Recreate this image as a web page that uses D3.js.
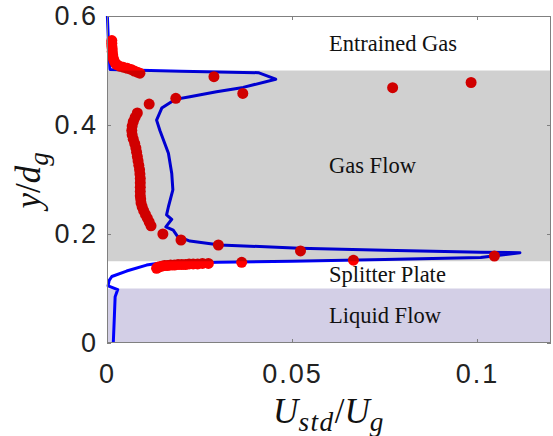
<!DOCTYPE html>
<html>
<head>
<meta charset="utf-8">
<script src="https://cdn.jsdelivr.net/npm/d3@7/dist/d3.min.js"></script>
<style>
    body { margin: 0; background: #fff; }
</style>
</head>
<body>
<div class="main"></div>
<script>
"use strict";

var xTicks = [0, 0.05, 0.1];
var xTickLabels = ["0", "0.05", "0.1"];
var yTicks = [0, 0.2, 0.4, 0.6];
var yTickLabels = ["0", "0.2", "0.4", "0.6"];

// simulation profile (blue line), ordered bottom to top
var simX = [0.0017, 0.0020, 0.0022, 0.0029, 0.0003, 0.0006, 0.0013, 0.0053, 0.0107, 0.0130,
    0.030, 0.050, 0.075, 0.101, 0.1116, 0.101, 0.075, 0.052, 0.0305, 0.0224,
    0.0190, 0.0179, 0.0159, 0.0175, 0.0161, 0.0166, 0.0178, 0.0175, 0.0166, 0.0143,
    0.0134, 0.0148, 0.0184, 0.0224, 0.0296, 0.0368, 0.0456, 0.0409, 0.020, 0.0008,
    0.0004, 0.0001];
var simY = [0, 0.05, 0.085, 0.098, 0.105, 0.115, 0.122, 0.132, 0.143, 0.1455,
    0.148, 0.150, 0.153, 0.157, 0.1657, 0.1665, 0.170, 0.174, 0.180, 0.187,
    0.196, 0.207, 0.213, 0.227, 0.235, 0.250, 0.281, 0.311, 0.348, 0.390,
    0.409, 0.431, 0.447, 0.452, 0.461, 0.469, 0.484, 0.496, 0.4985, 0.502,
    0.55, 0.6];

// experiment (red dots)
var expX = [0.0134, 0.0137, 0.0142, 0.0148, 0.0155, 0.0163, 0.0172, 0.0182, 0.0192, 0.0202,
    0.0212, 0.0222, 0.0233, 0.0245, 0.0258, 0.0274, 0.0364, 0.0666, 0.1047, 0.0523,
    0.0301, 0.0200, 0.0151, 0.0119, 0.0114, 0.0109, 0.0104, 0.0099, 0.0095, 0.0092,
    0.0091, 0.0090, 0.0090, 0.0090, 0.0090, 0.0090, 0.0089, 0.0088, 0.0086, 0.0084,
    0.0082, 0.0080, 0.0078, 0.0075, 0.0071, 0.0068, 0.0067, 0.0068, 0.0071, 0.0076,
    0.0082, 0.0114, 0.0186, 0.0367, 0.0772, 0.0984, 0.0289, 0.0089, 0.0082, 0.0074,
    0.0065, 0.0055, 0.0044, 0.0034, 0.0026, 0.0021, 0.0018, 0.0016, 0.0015, 0.0014,
    0.0014, 0.0013, 0.0013, 0.0013];
var expY = [0.137, 0.139, 0.140, 0.141, 0.142, 0.142, 0.143, 0.143, 0.144, 0.144,
    0.144, 0.145, 0.145, 0.145, 0.146, 0.146, 0.148, 0.152, 0.1596, 0.169,
    0.1798, 0.189, 0.200, 0.215, 0.222, 0.229, 0.236, 0.243, 0.250, 0.257,
    0.264, 0.270, 0.278, 0.286, 0.294, 0.302, 0.310, 0.318, 0.326, 0.334,
    0.342, 0.350, 0.358, 0.366, 0.374, 0.382, 0.390, 0.398, 0.406, 0.414,
    0.422, 0.4385, 0.449, 0.458, 0.4685, 0.478, 0.4886, 0.495, 0.497, 0.499,
    0.502, 0.504, 0.506, 0.508, 0.511, 0.515, 0.520, 0.525, 0.530, 0.535,
    0.540, 0.545, 0.550, 0.555];

// flow regions
var regionNames = ["Liquid Flow", "Splitter Plate", "Gas Flow", "Entrained Gas"];
var regionLow = [0, 0.1, 0.15, 0.5];
var regionHigh = [0.1, 0.15, 0.5, 0.6];

var width = 553, height = 436;
var margin = {top: 16, right: 2, bottom: 93, left: 107};
var w = width - margin.left - margin.right;
var h = height - margin.top - margin.bottom;

var x = d3.scaleLinear().domain([0, 0.12]).range([0, w]);
var y = d3.scaleLinear().domain([0, 0.6]).range([h, 0]);

var svg = d3.select('div.main')
    .append('svg')
    .attr('width', width)
    .attr('height', height);

var g = svg.append('g')
    .attr('transform', 'translate(' + margin.left + ',' + margin.top + ')');

// liquid flow band sits under the data
g.append('rect')
    .attr('x', 0)
    .attr('width', w)
    .attr('y', y(regionHigh[0]))
    .attr('height', y(regionLow[0]) - y(regionHigh[0]))
    .attr('fill', '#d3cfe6');

var simPts = simX.map(function (d, i) { return [d, simY[i]]; });
g.append('path')
    .datum(simPts)
    .attr('d', d3.line().x(function (d) { return x(d[0]); }).y(function (d) { return y(d[1]); }))
    .attr('fill', 'none')
    .attr('stroke', '#0000ff')
    .attr('stroke-width', 3)
    .attr('stroke-linejoin', 'round');

g.selectAll('circle.exp')
    .data(expX.map(function (d, i) { return [d, expY[i]]; }))
    .enter().append('circle')
    .attr('class', 'exp')
    .attr('cx', function (d) { return x(d[0]); })
    .attr('cy', function (d) { return y(d[1]); })
    .attr('r', 5.5)
    .attr('fill', '#ff0000');

// gas flow band is a translucent patch drawn over the data
g.append('rect')
    .attr('x', 0)
    .attr('width', w)
    .attr('y', y(regionHigh[2]))
    .attr('height', y(regionLow[2]) - y(regionHigh[2]))
    .attr('fill', '#000')
    .attr('fill-opacity', 0.184);

g.selectAll('text.region')
    .data(regionNames)
    .enter().append('text')
    .attr('class', 'region')
    .attr('x', x(0.06))
    .attr('y', function (d, i) { return y((regionLow[i] + regionHigh[i]) / 2); })
    .attr('dy', '0.33em')
    .attr('font-family', '"Liberation Serif", serif')
    .attr('font-size', 22.5)
    .attr('fill', '#111')
    .text(function (d) { return d; });

// axes box
g.append('rect')
    .attr('x', 0.5).attr('y', 0.5)
    .attr('width', w - 1).attr('height', h - 1)
    .attr('fill', 'none')
    .attr('stroke', '#808080');

function styleAxis(sel) {
    sel.select('.domain').remove();
    sel.selectAll('line').attr('stroke', '#808080');
    sel.selectAll('text')
        .attr('font-family', '"Liberation Sans", Arial, sans-serif')
        .attr('font-size', 27)
        .attr('letter-spacing', 2)
        .attr('fill', '#222');
}

g.append('g')
    .attr('transform', 'translate(0,' + h + ')')
    .call(d3.axisBottom(x).tickValues(xTicks).tickSize(-4).tickPadding(21)
        .tickFormat(function (d, i) { return xTickLabels[i]; }))
    .call(styleAxis);

g.append('g')
    .call(d3.axisLeft(y).tickValues(yTicks).tickSize(-4).tickPadding(9)
        .tickFormat(function (d, i) { return yTickLabels[i]; }))
    .call(styleAxis);

g.append('g')
    .call(d3.axisTop(x).tickValues(xTicks).tickSize(-4).tickFormat(''))
    .call(styleAxis);

g.append('g')
    .attr('transform', 'translate(' + w + ',0)')
    .call(d3.axisRight(y).tickValues(yTicks).tickSize(-4).tickFormat(''))
    .call(styleAxis);

// math style labels: italic letters, small subscripts
function mathLabel(sel, parts) {
    parts.forEach(function (p) {
        var t = sel.append('tspan').text(p.t);
        if (p.up) t.attr('font-style', 'normal');
        if (p.sub) t.attr('font-size', '0.78em').attr('dy', '0.3em').attr('letter-spacing', 1.5);
        if (p.back) t.attr('dy', '-0.234em');
    });
}

var xl = svg.append('text')
    .attr('x', margin.left + w / 2)
    .attr('y', 423)
    .attr('text-anchor', 'middle')
    .attr('font-family', '"Liberation Serif", serif')
    .attr('font-style', 'italic')
    .attr('font-size', 35)
    .attr('fill', '#111');
mathLabel(xl, [{t: 'U'}, {t: 'std', sub: true}, {t: '/', up: true, back: true}, {t: 'U'}, {t: 'g', sub: true}]);

var yl = svg.append('text')
    .attr('transform', 'translate(40,' + (margin.top + h / 2) + ') rotate(-90)')
    .attr('text-anchor', 'middle')
    .attr('font-family', '"Liberation Serif", serif')
    .attr('font-style', 'italic')
    .attr('font-size', 35)
    .attr('fill', '#111');
mathLabel(yl, [{t: 'y'}, {t: '/', up: true}, {t: 'd'}, {t: 'g', sub: true}]);
</script>
</body>
</html>
